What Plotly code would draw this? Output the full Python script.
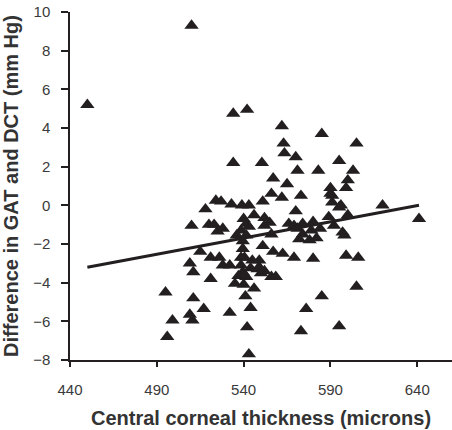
import plotly.graph_objects as go

# Central corneal thickness (microns)
cct = [450, 510, 534, 542, 562, 585, 605, 563, 563.5, 570, 534, 550.5, 595, 571, 583, 603,
       557, 565, 600, 590, 599, 556, 573, 591, 591, 562, 551, 620, 524, 527, 533, 539, 543,
       595, 518, 570, 641, 540, 546, 552, 589, 600, 555, 541.5, 543, 510, 520, 523, 525, 528,
       566, 569, 574, 580, 584, 592, 552, 556, 571, 574, 572, 578, 579, 582, 597, 598,
       538.5, 541.5, 539.5, 536, 539.5, 551, 557, 562.5, 569, 580, 599, 606, 515, 521, 526,
       538.5, 540.5, 509, 511, 528, 532, 538.5, 539.5, 545, 549, 521, 537, 541.5, 535, 540,
       546, 541, 550, 556, 558.5, 552, 548, 495, 511, 517, 509, 510.5, 499, 496, 532, 542,
       543, 544, 576, 585, 605, 573, 595, 590, 596, 544, 549]
# Difference in GAT and DCT (mm Hg)
diff = [5.2, 9.3, 4.75, 4.95, 4.1, 3.7, 3.2, 3.2, 2.7, 2.5, 2.2, 2.2, 2.3, 1.8, 1.8, 1.8,
        1.4, 1.1, 1.3, 0.9, 0.9, 0.6, 0.5, 0.5, 0.15, 0.4, 0.2, 0.0, 0.25, 0.2, 0.05, 0.0, 0.0,
        -0.1, -0.2, -0.3, -0.7, -0.7, -0.5, -0.65, -0.6, -0.5, -0.9, -0.95, -1.1, -1.05, -1.0,
        -1.0, -1.35, -1.2, -0.95, -1.05, -0.95, -0.85, -1.2, -1.05, -1.05, -1.5, -1.2, -1.5,
        -1.75, -1.8, -1.3, -1.7, -1.4, -1.55, -1.3, -1.55, -1.85, -1.55, -2.25, -2.1, -2.4,
        -2.5, -2.7, -2.75, -2.6, -2.7, -2.4, -2.7, -2.7, -2.7, -2.7, -3.0, -3.45, -3.1, -3.1,
        -3.1, -3.45, -2.85, -2.85, -3.8, -3.65, -3.7, -4.05, -4.1, -4.3, -4.7, -3.5, -3.7,
        -3.7, -3.4, -3.3, -4.5, -4.8, -5.35, -5.65, -5.95, -5.95, -6.8, -5.55, -6.3, -7.7,
        -5.3, -5.35, -4.7, -4.2, -6.5, -6.25, 0.6, 0.0, -3.25, -3.2]

# Regression line end points
trend_x = [450, 641]
trend_y = [-3.2, 0.0]

x_ticks = [440, 490, 540, 590, 640]
y_ticks = [-8, -6, -4, -2, 0, 2, 4, 6, 8, 10]

ink = "#231f20"
fig = go.Figure()
fig.add_trace(go.Scatter(x=trend_x, y=trend_y, mode="lines",
                         line=dict(color=ink, width=3), hoverinfo="skip"))
fig.add_trace(go.Scatter(x=cct, y=diff, mode="markers",
                         marker=dict(symbol="triangle-up", size=12.5, color=ink,
                                     line=dict(width=0))))

axis_font = dict(family="Liberation Sans, Arial, sans-serif", size=15, color="#3a3a3a")
title_font = dict(family="Liberation Sans, Arial, sans-serif", size=20, color="#333333")

fig.update_layout(
    width=452, height=430,
    margin=dict(l=70, r=0, t=12, b=70),
    paper_bgcolor="white", plot_bgcolor="white",
    showlegend=False,
    xaxis=dict(range=[440, 660], tickvals=x_ticks, ticks="outside", ticklen=5,
               tickwidth=1.5, tickcolor=ink, showline=True, linecolor=ink, linewidth=1.5,
               showgrid=False, zeroline=False, tickfont=axis_font, ticklabelstandoff=10,
               title=dict(text="<b>Central corneal thickness (microns)</b>", font=title_font,
                          standoff=14)),
    yaxis=dict(range=[-8, 10], tickvals=y_ticks, ticks="outside", ticklen=7,
               tickwidth=1.5, tickcolor=ink, showline=True, linecolor=ink, linewidth=1.5,
               showgrid=False, zeroline=False, tickfont=axis_font, ticklabelstandoff=8,
               title=dict(text="<b>Difference in GAT and DCT (mm Hg)</b>", font=title_font,
                          standoff=14)),
)

fig.write_html("out.html")
